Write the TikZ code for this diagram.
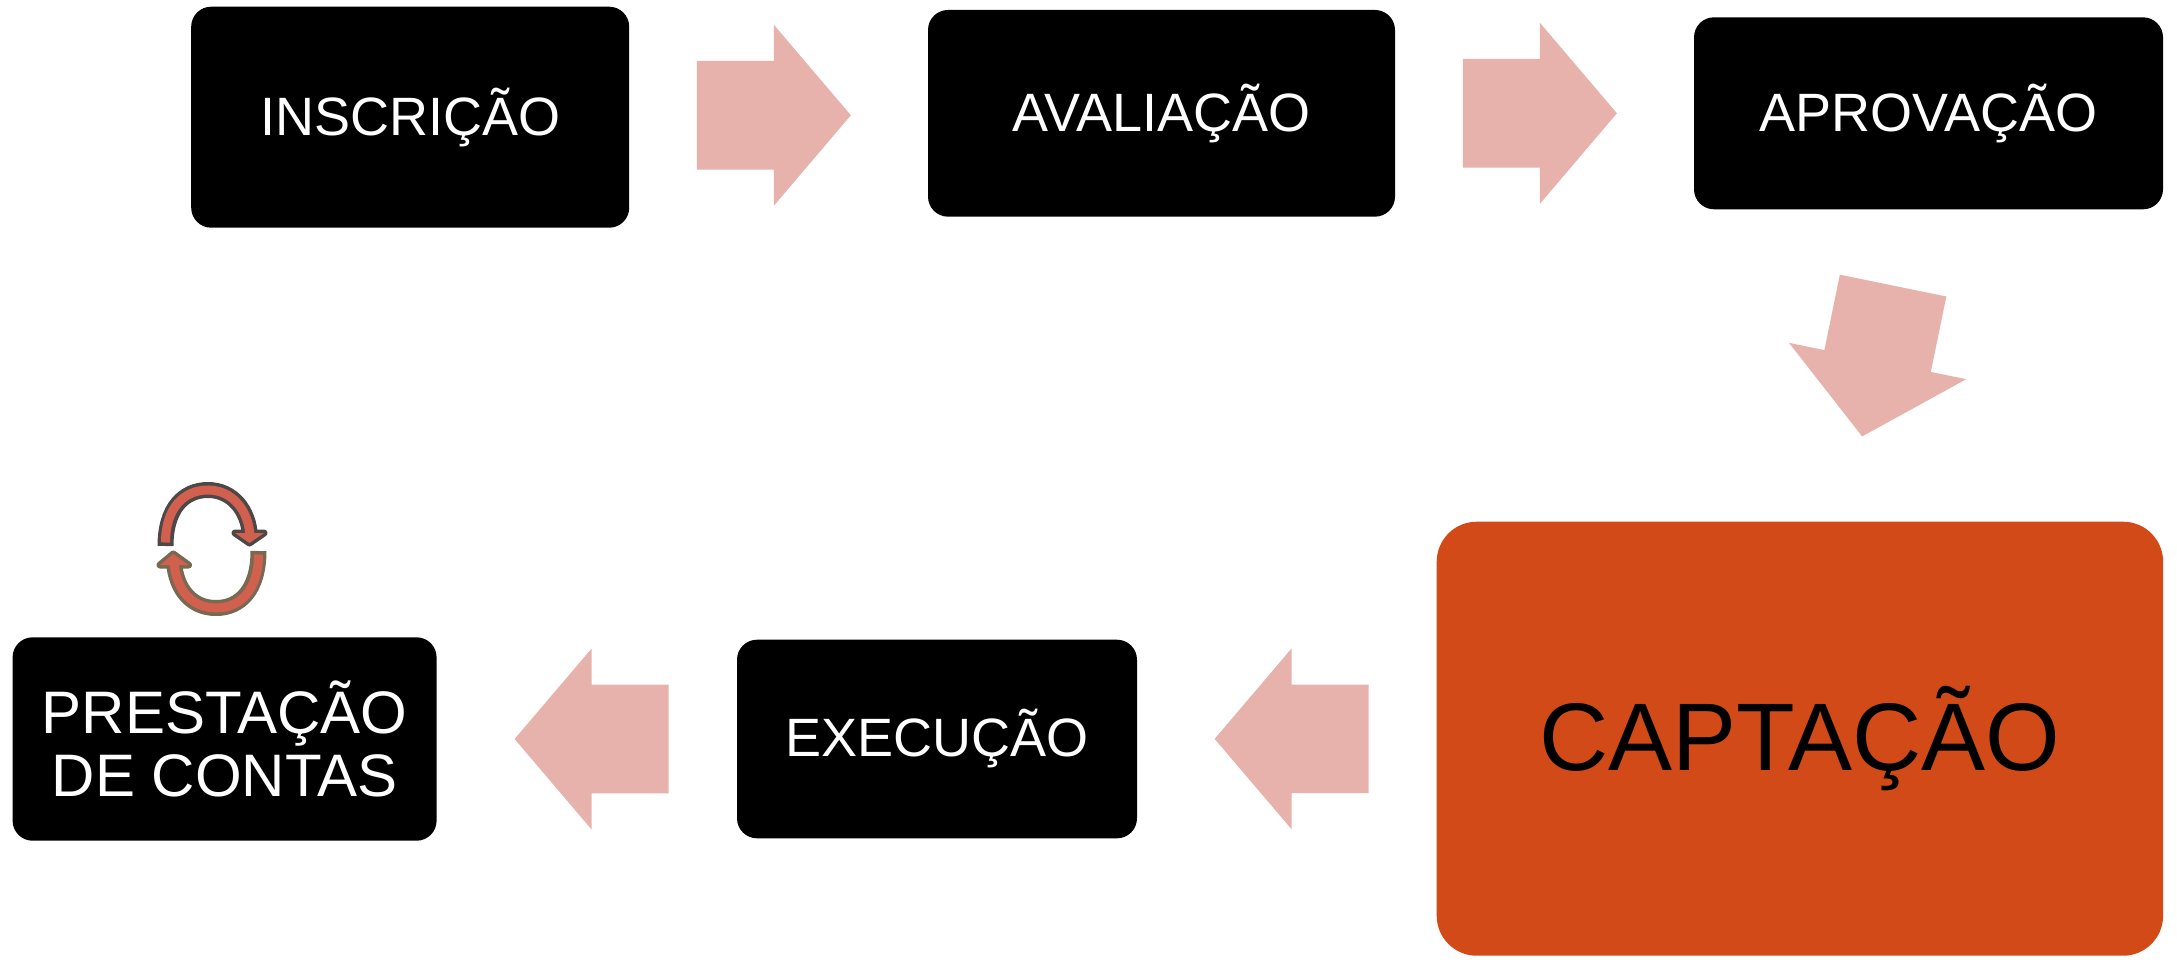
\documentclass[tikz,border=0pt]{standalone}
\usepackage{fontspec}
\setmainfont{Liberation Sans}
\usepackage{tikz}
\usepackage{xcolor}
\usetikzlibrary{calc}
\definecolor{setapink}{HTML}{E6B2AB}
\definecolor{laranja}{HTML}{D14A18}
\definecolor{aneltopo}{HTML}{4E4747}
\definecolor{anelbase}{HTML}{786950}
\definecolor{anelfill}{HTML}{D2604F}

\begin{document}
\begin{tikzpicture}[x=1pt,y=-1pt,
    etapa/.style={fill=black,text=white,rounded corners=20pt,inner sep=0pt,font=\fontsize{54}{60}\selectfont},
    seta/.style={fill=setapink}]
                \useasboundingbox (0,0) rectangle (2177,959);
                \node[etapa,minimum width=438pt,minimum height=221pt] (insc) at (410.2,117.2) {INSCRIÇÃO};
                \node[etapa,minimum width=467pt,minimum height=206.7pt] (aval) at (1161.5,113.3) {AVALIAÇÃO};
                \node[etapa,minimum width=469pt,minimum height=192pt] (aprov) at (1928.5,113.3) {APROVAÇÃO};
                \node[etapa,fill=laranja,text=black,rounded corners=40pt,minimum width=726.4pt,minimum height=434pt,font=\fontsize{96}{100}\selectfont] (capt) at (1799.9,738.7) {CAPTAÇÃO};
                \node[etapa,minimum width=400pt,minimum height=198.6pt] (exec) at (937,739) {EXECUÇÃO};
                \node[etapa,minimum width=424pt,minimum height=203.4pt,align=center,font=\fontsize{60}{63.4}\selectfont] (prest) at (224.6,739) {PRESTAÇÃO\\DE CONTAS};
                \foreach \de/\para/\dx/\dy/\ang in {insc.east/aval.west/-4.75/0/0, aval.east/aprov.west/-4.6/0/0, aprov.south/capt.north/13.4/-4.5/258.4, capt.west/exec.east/4.8/0/180, exec.west/prest.east/4.8/0/180}
                \fill[seta,shift={($(\de)!0.5!(\para)+(\dx,\dy)$)},rotate=\ang] (-77,-54.35) -- (0,-54.35) -- (0,-90.5) -- (77,0) -- (0,90.5) -- (0,54.35) -- (-77,54.35) -- cycle;
                \draw[line width=16pt,aneltopo] (165.5,546) .. controls (165.5,508) and (184,490) .. (208,490) .. controls (232,490) and (249,510) .. (250,537);
                \filldraw[aneltopo,line width=7pt,line join=round] (235,533) -- (264,533) -- (249.5,543) -- cycle;
                \draw[line width=9pt,anelfill,shorten <=3.5pt] (165.5,546) .. controls (165.5,508) and (184,490) .. (208,490) .. controls (232,490) and (249,510) .. (250,537);
                \fill[anelfill] (235,533) -- (264,533) -- (249.5,543) -- cycle;
                \draw[line width=16pt,anelbase] (258.5,551) .. controls (258.5,590) and (240,608) .. (216,608) .. controls (192,608) and (176,590) .. (174,562);
                \filldraw[anelbase,line width=7pt,line join=round] (160,565) -- (188.5,565) -- (173.3,554) -- cycle;
                \draw[line width=9pt,anelfill,shorten <=3.5pt] (258.5,551) .. controls (258.5,590) and (240,608) .. (216,608) .. controls (192,608) and (176,590) .. (174,562);
                \fill[anelfill] (160,565) -- (188.5,565) -- (173.3,554) -- cycle;
            \end{tikzpicture}
\end{document}
